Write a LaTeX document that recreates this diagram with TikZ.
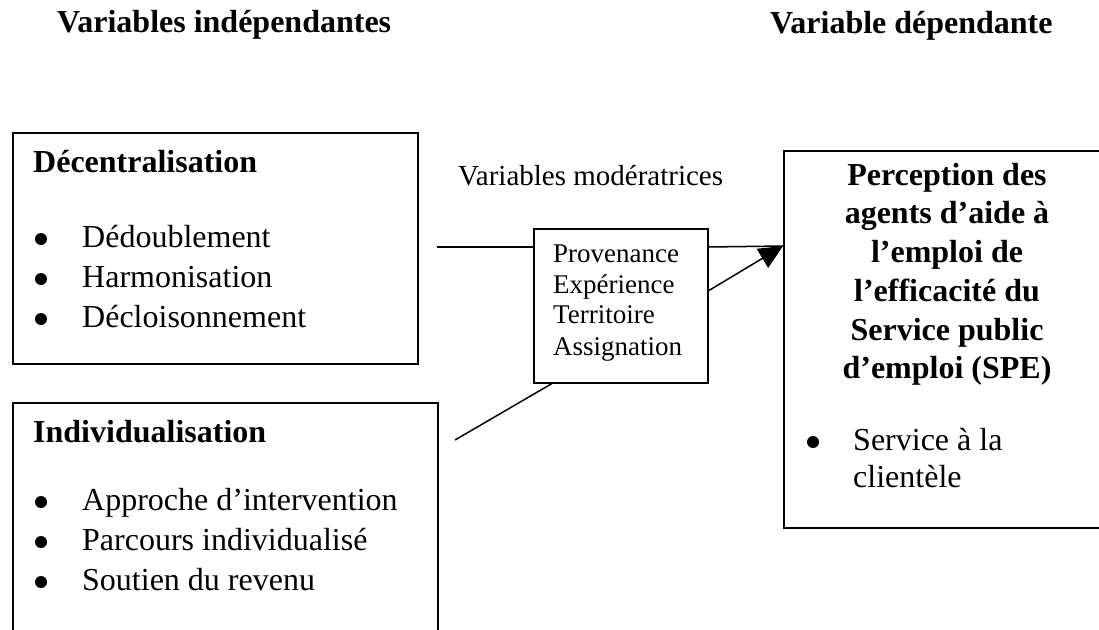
\documentclass[tikz,border=0pt]{standalone}
\usepackage{fontspec}
\setmainfont{Liberation Serif}
\usetikzlibrary{arrows.meta}
\begin{document}
\begin{tikzpicture}[x=1pt,y=-1pt,
  box/.style={draw, line width=1.5pt, inner sep=0pt, anchor=north west},
  big/.style={font=\fontsize{32}{40}\selectfont, inner sep=0pt, anchor=base west},
  bigb/.style={font=\fontsize{32}{40}\selectfont\bfseries, inner sep=0pt, anchor=base west},
  ctrb/.style={font=\fontsize{32}{40}\selectfont\bfseries, inner sep=0pt, anchor=base},
  small/.style={font=\fontsize{27}{31}\selectfont, inner sep=0pt, anchor=base west},
  mod/.style={font=\fontsize{29}{34}\selectfont, inner sep=0pt, anchor=base west},
  dot/.style={circle, fill=black, inner sep=0pt, minimum size=12pt},
  conn/.style={line width=1.5pt}]
\useasboundingbox (0,0) rectangle (1099,629);
\clip (0,0) rectangle (1099,629);

% headers
\node[bigb] (h1) at (57,32) {Variables indépendantes};
\node[bigb] (h2) at (770,33) {Variable dépendante};

% boxes
\node[box, minimum width=405pt, minimum height=231pt] (dec) at (12,132) {};
\node[box, minimum width=425pt, minimum height=240pt] (ind) at (12,402) {};
\node[box, minimum width=174pt, minimum height=154pt] (mid) at (533,228) {};
\node[box, minimum width=328pt, minimum height=377pt] (dep) at (783,150) {};

% box 1 text
\node[bigb] (t1) at (33,172) {Décentralisation};
\node[dot] (b11) at (41,239) {};
\node[dot] (b12) at (41,279) {};
\node[dot] (b13) at (41,319) {};
\node[big] (t11) at (82,247) {Dédoublement};
\node[big] (t12) at (82,287) {Harmonisation};
\node[big] (t13) at (82,327) {Décloisonnement};

% box 2 text
\node[bigb] (t2) at (33,442) {Individualisation};
\node[dot] (b21) at (41,502) {};
\node[dot] (b22) at (41,542) {};
\node[dot] (b23) at (41,582) {};
\node[big] (t21) at (82,510) {Approche d’intervention};
\node[big] (t22) at (82,550) {Parcours individualisé};
\node[big] (t23) at (82,590) {Soutien du revenu};

% moderators
\node[mod] (mlab) at (458,185) {Variables modératrices};
\node[small] (m1) at (553,262) {Provenance};
\node[small] (m2) at (553,293) {Expérience};
\node[small] (m3) at (553,323) {Territoire};
\node[small] (m4) at (553,355) {Assignation};

% dependent box text
\node[ctrb] (d1) at (947,185) {Perception des};
\node[ctrb] (d2) at (947,223) {agents d’aide à};
\node[ctrb] (d3) at (947,262) {l’emploi de};
\node[ctrb] (d4) at (947,301) {l’efficacité du};
\node[ctrb] (d5) at (947,340) {Service public};
\node[ctrb] (d6) at (947,378) {d’emploi (SPE)};
\node[dot] (db) at (813,442) {};
\node[big] (dt1) at (853,450) {Service à la};
\node[big] (dt2) at (853,487) {clientèle};

% connectors
\coordinate (hl) at (437,247);
\coordinate (tip) at (783,246);
\coordinate (ll) at (455,440);
\draw[conn] (hl) -- (hl -| mid.west);
\draw[conn] (hl -| mid.east) -- (tip);
\draw[conn, -{Triangle[length=24pt,width=22pt]}] ([yshift=15pt]mid.east) -- (tip);
\draw[conn] (ll) -- ([xshift=19pt]mid.south west);
\end{tikzpicture}
\end{document}
